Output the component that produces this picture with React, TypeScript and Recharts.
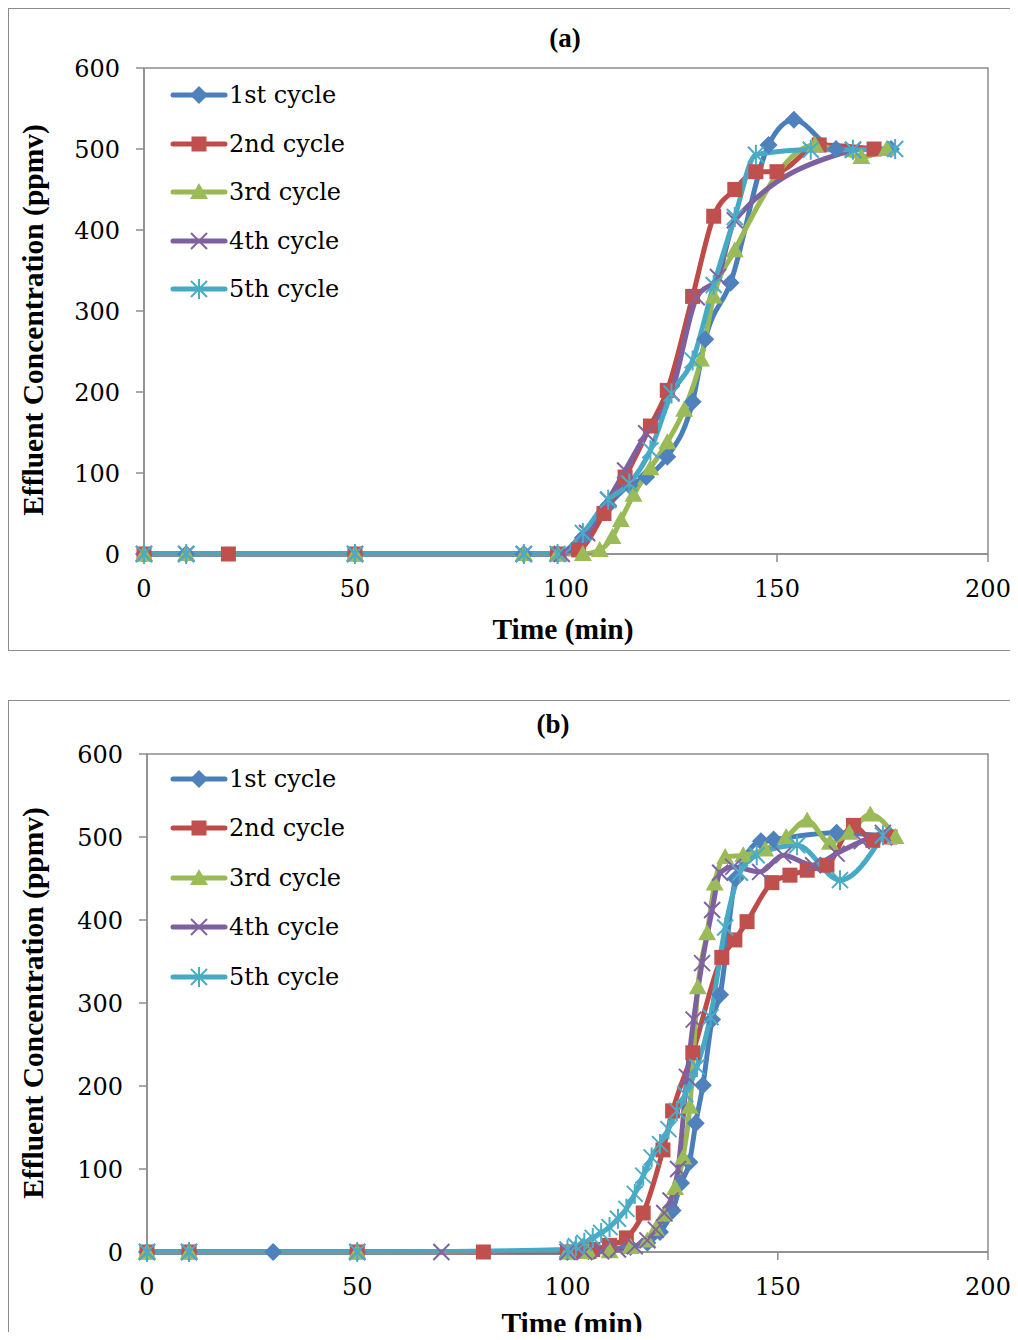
import React from "react";
import { LineChart, Line, XAxis, YAxis, Legend, ReferenceArea } from "recharts";

// ---- panel (a) ----
const timeA1 = [0, 10, 50, 90, 98, 104, 110, 115, 119, 124, 130, 133, 139, 148, 154, 164, 177];
const concA1 = [0, 0, 0, 0, 0, 20, 60, 85, 95, 120, 188, 265, 335, 505, 536, 500, 500];
const timeA2 = [0, 20, 50, 98, 103, 109, 114, 120, 124, 130, 135, 140, 145, 150, 160, 173];
const concA2 = [0, 0, 0, 0, 5, 50, 95, 158, 202, 318, 417, 450, 472, 472, 505, 500];
const timeA3 = [0, 10, 50, 90, 98, 104, 108, 111, 113, 116, 120, 124, 128, 132, 135, 140, 159, 170, 176];
const concA3 = [0, 0, 0, 0, 0, 0, 5, 21, 42, 73, 106, 138, 178, 240, 318, 375, 505, 490, 500];
const timeA4 = [0, 10, 50, 90, 99, 105, 110, 114, 119, 125, 131, 136, 140, 168];
const concA4 = [0, 0, 0, 0, 0, 26, 67, 103, 149, 199, 317, 342, 412, 499];
const timeA5 = [0, 10, 50, 90, 98, 104, 110, 115, 120, 125, 130, 135, 140, 145, 158, 168, 178];
const concA5 = [0, 0, 0, 0, 0, 26, 67, 87, 128, 198, 239, 332, 416, 493, 499, 499, 500];

// ---- panel (b) ----
const timeB1 = [0, 10, 30, 50, 100, 105, 110, 115, 119, 122, 125, 127, 129, 130.5, 132.2, 134.4, 136.3, 140, 146, 149, 164, 177];
const concB1 = [0, 0, 0, 0, 0, 1, 3, 6, 11, 24, 50, 83, 108, 155, 201, 280, 310, 450, 495, 497, 505, 500];
const timeB2 = [0, 10, 50, 80, 100, 103, 106, 110, 114, 118, 122.7, 125, 129.8, 136.7, 139.8, 142.7, 148.6, 152.9, 157, 161.7, 168, 172.6, 176.7];
const concB2 = [0, 0, 0, 0, 0, 1, 3, 8, 17, 47, 123, 170, 240, 355, 376, 398, 445, 454, 460, 466, 514, 496, 500];
const timeB3 = [0, 10, 50, 100, 105, 110, 115, 119, 121, 123, 125.6, 127.5, 129.1, 131, 133.2, 135, 137.5, 141.8, 147, 152, 157, 162.4, 167, 172, 178];
const concB3 = [0, 0, 0, 0, 0, 1, 6, 14, 28, 45, 77, 114, 175, 319, 384, 444, 476, 478, 485, 500, 520, 493, 505, 527, 500];
const timeB4 = [0, 10, 50, 70, 100, 104, 108, 112, 116, 119, 121, 123, 124.5, 126.3, 128.4, 130, 132, 134.4, 136.3, 139.4, 145.8, 151.3, 158.4, 164, 170, 175];
const concB4 = [0, 0, 0, 0, 0, 0, 1, 3, 7, 14, 27, 47, 62, 100, 211, 280, 348, 412, 457, 464, 458, 478, 466, 480, 495, 505];
const timeB5 = [0, 10, 50, 100, 102, 104, 106, 108, 110, 112, 114, 116, 118, 120, 122, 124, 126, 128, 130.8, 134, 137.5, 141, 145, 154.6, 164.8, 175];
const concB5 = [0, 0, 0, 3, 7, 11, 17, 23, 30, 40, 52, 70, 92, 114, 130, 148, 170, 190, 223, 283, 391, 457, 478, 490, 448, 502];

const cycleNames = ["1st cycle", "2nd cycle", "3rd cycle", "4th cycle", "5th cycle"];
const lineColors = ["#4A7EBB", "#BE4B48", "#98B954", "#7D60A0", "#46AAC5"];
const markerColors = ["#4F81BD", "#C0504D", "#9BBB59", "#8064A2", "#4BACC6"];
const markerShapes = ["diamond", "square", "triangle", "cross", "star"];
const timeTicks = [0, 50, 100, 150, 200];
const concTicks = [0, 100, 200, 300, 400, 500, 600];

const toPoints = (t: number[], v: number[]) => t.map((x, i) => ({ t: x, v: v[i] }));

const seriesA = [
  toPoints(timeA1, concA1),
  toPoints(timeA2, concA2),
  toPoints(timeA3, concA3),
  toPoints(timeA4, concA4),
  toPoints(timeA5, concA5),
];
const seriesB = [
  toPoints(timeB1, concB1),
  toPoints(timeB2, concB2),
  toPoints(timeB3, concB3),
  toPoints(timeB4, concB4),
  toPoints(timeB5, concB5),
];

const serif = "'Liberation Serif', 'Times New Roman', serif";
const tickFont = "'DejaVu Serif', serif";
const gray = "#8c8c8c";

const Marker = ({ shape, cx, cy, color }: { shape: string; cx: number; cy: number; color: string }) => {
  if (cx == null || cy == null) return null;
  switch (shape) {
    case "diamond":
      return <polygon points={`${cx},${cy - 9} ${cx + 9},${cy} ${cx},${cy + 9} ${cx - 9},${cy}`} fill={color} />;
    case "square":
      return <rect x={cx - 7.5} y={cy - 7.5} width={15} height={15} fill={color} />;
    case "triangle":
      return <polygon points={`${cx},${cy - 9} ${cx + 9},${cy + 7} ${cx - 9},${cy + 7}`} fill={color} />;
    case "cross":
      return (
        <path
          d={`M${cx - 8},${cy - 8}L${cx + 8},${cy + 8}M${cx - 8},${cy + 8}L${cx + 8},${cy - 8}`}
          stroke={color}
          strokeWidth={2}
        />
      );
    default:
      return (
        <path
          d={`M${cx - 8},${cy - 8}L${cx + 8},${cy + 8}M${cx - 8},${cy + 8}L${cx + 8},${cy - 8}M${cx},${cy - 10}L${cx},${cy + 10}`}
          stroke={color}
          strokeWidth={2}
        />
      );
  }
};

const LegendBox = ({ rowHeight }: { rowHeight: number }) => (
  <div style={{ fontFamily: tickFont, fontSize: 24, color: "#000" }}>
    {cycleNames.map((name, i) => (
      <div key={name} style={{ display: "flex", alignItems: "center", height: rowHeight }}>
        <svg width={58} height={22}>
          <line x1={3} y1={11} x2={55} y2={11} stroke={lineColors[i]} strokeWidth={5} strokeLinecap="round" />
          <Marker shape={markerShapes[i]} cx={29} cy={11} color={markerColors[i]} />
        </svg>
        <span style={{ marginLeft: 1 }}>{name}</span>
      </div>
    ))}
  </div>
);

interface PanelProps {
  title: string;
  series: { t: number; v: number }[][];
  height: number;
  margin: { top: number; right: number; left: number; bottom: number };
  legendPos: { left: number; top: number; row: number };
  titlePos: [number, number];
  yLabelPos: [number, number];
  xLabelPos: [number, number];
}

const centered = (x: number, y: number, extra: React.CSSProperties = {}): React.CSSProperties => ({
  position: "absolute",
  left: x,
  top: y,
  transform: "translate(-50%, -50%)",
  whiteSpace: "nowrap",
  fontFamily: serif,
  fontWeight: "bold",
  ...extra,
});

const Panel = ({ title, series, height, margin, legendPos, titlePos, yLabelPos, xLabelPos }: PanelProps) => (
  <div style={{ position: "relative", width: 1009, height }}>
    <LineChart width={1009} height={height} margin={margin}>
      <ReferenceArea x1={0} x2={200} y1={0} y2={600} fill="none" stroke={gray} strokeWidth={1.5} />
      <XAxis
        dataKey="t"
        type="number"
        domain={[0, 200]}
        ticks={timeTicks}
        height={40}
        tickSize={8}
        tickMargin={18}
        stroke={gray}
        strokeWidth={1.5}
        tick={{ fill: "#000", fontFamily: tickFont, fontSize: 24 }}
        allowDuplicatedCategory={false}
      />
      <YAxis
        type="number"
        domain={[0, 600]}
        ticks={concTicks}
        width={60}
        tickSize={8}
        tickMargin={16}
        stroke={gray}
        strokeWidth={1.5}
        tick={{ fill: "#000", fontFamily: tickFont, fontSize: 24 }}
      />
      <Legend
        layout="vertical"
        align="center"
        verticalAlign="middle"
        wrapperStyle={{ left: legendPos.left, top: legendPos.top, width: 220 }}
        content={() => <LegendBox rowHeight={legendPos.row} />}
      />
      {series.map((data, i) => (
        <Line
          key={cycleNames[i]}
          data={data}
          dataKey="v"
          name={cycleNames[i]}
          type="monotone"
          stroke={lineColors[i]}
          strokeWidth={5}
          isAnimationActive={false}
          activeDot={false}
          dot={(p: any) => (
            <g key={`${i}-${p.index}`}>
              <Marker shape={markerShapes[i]} cx={p.cx} cy={p.cy} color={markerColors[i]} />
            </g>
          )}
        />
      ))}
    </LineChart>
    <div style={centered(titlePos[0], titlePos[1], { fontSize: 27 })}>{title}</div>
    <div style={centered(yLabelPos[0], yLabelPos[1], { fontSize: 29.5, transform: "translate(-50%, -50%) rotate(-90deg)" })}>
      Effluent Concentration (ppmv)
    </div>
    <div style={centered(xLabelPos[0], xLabelPos[1], { fontSize: 29.5 })}>Time (min)</div>
  </div>
);

export default function App() {
  return (
    <div style={{ width: 1010, height: 1332, marginBottom: -8, overflow: "hidden", position: "relative" }}>
      <div
        style={{
          boxSizing: "border-box",
          width: 1010,
          height: 643,
          border: `1px solid ${gray}`,
          borderRight: "none",
          background: "#fff",
        }}
      >
        <Panel
          title="(a)"
          series={seriesA}
          height={641}
          margin={{ top: 59, right: 30, left: 75, bottom: 56 }}
          legendPos={{ left: 161, top: 62, row: 48.5 }}
          titlePos={[556, 29]}
          yLabelPos={[24, 311]}
          xLabelPos={[554, 620]}
        />
      </div>
      <div
        style={{
          boxSizing: "border-box",
          marginTop: 49,
          width: 1010,
          height: 640,
          border: `1px solid ${gray}`,
          borderRight: "none",
          borderBottom: "none",
          background: "#fff",
        }}
      >
        <Panel
          title="(b)"
          series={seriesB}
          height={639}
          margin={{ top: 53, right: 30, left: 78, bottom: 48 }}
          legendPos={{ left: 161, top: 53, row: 49.5 }}
          titlePos={[544, 23]}
          yLabelPos={[24, 302]}
          xLabelPos={[563, 622]}
        />
      </div>
    </div>
  );
}
